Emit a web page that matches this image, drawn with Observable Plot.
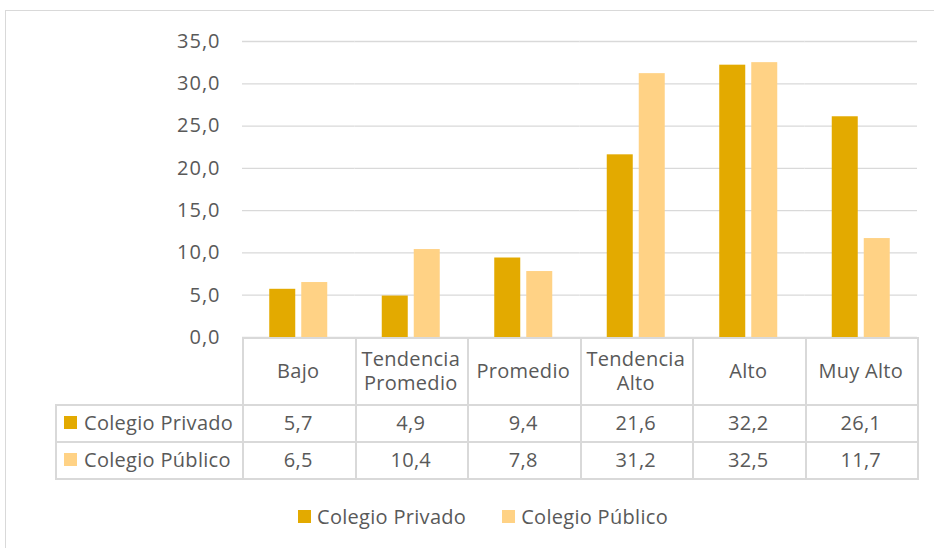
<!DOCTYPE html>
<html><head><meta charset="utf-8">
<script src="https://cdn.jsdelivr.net/npm/d3@7"></script>
<script src="https://cdn.jsdelivr.net/npm/@observablehq/plot@0.6"></script>
<style>
body{margin:0;background:#fff;font-family:"Open Sans",sans-serif;color:#595959;}
#wrap{position:relative;width:934px;height:548px;overflow:hidden;background:#fff;}
#frame{position:absolute;left:5px;top:10px;width:960px;height:580px;border:1px solid #d9d9d9;box-sizing:border-box;}
#chart{position:absolute;left:0;top:0;}
#chart svg text{letter-spacing:1px;}
.ln{position:absolute;background:#d9d9d9;}
.cell{position:absolute;display:flex;align-items:center;justify-content:center;text-align:center;font-size:20px;line-height:24px;letter-spacing:0.3px;color:#595959;white-space:pre-line;}
.rowlab{position:absolute;display:flex;align-items:center;font-size:20px;letter-spacing:0.3px;color:#595959;white-space:nowrap;}
.key{display:inline-block;width:13px;height:13px;margin-right:7px;}
#legend{position:absolute;top:503px;left:298px;display:flex;align-items:center;font-size:20px;letter-spacing:0.3px;color:#595959;}
#legend span.item{display:flex;align-items:center;margin-right:36px;}
</style>
</head>
<body>
<div id="wrap"><div id="frame"></div><div id="chart"></div><div id="table"></div><div id="legend"></div></div>
<script>
const categories = ["Bajo", "Tendencia\nPromedio", "Promedio", "Tendencia\nAlto", "Alto", "Muy Alto"];
const series = ["Colegio Privado", "Colegio Público"];
const privado = [5.7, 4.9, 9.4, 21.6, 32.2, 26.1];
const publico = [6.5, 10.4, 7.8, 31.2, 32.5, 11.7];
const colors = ["#E3AA00", "#FFD285"];
const yTicks = [0, 5, 10, 15, 20, 25, 30, 35];

const fmt = v => v.toFixed(1).replace(".", ",");
const values = [privado, publico];
const data = [];
categories.forEach((c, i) => series.forEach((s, j) => data.push({cat: c, series: s, value: values[j][i]})));

const chart = Plot.plot({
  width: 934,
  height: 548,
  marginLeft: 242,
  marginRight: 17,
  marginTop: 41,
  marginBottom: 211,
  style: {fontFamily: "'Open Sans', sans-serif", fontSize: "20px", color: "#595959", background: "transparent"},
  facet: {data, x: "cat"},
  fx: {domain: categories, padding: 0, round: false, axis: null, label: null},
  x: {domain: series, paddingInner: 0.1875, paddingOuter: 0.8516, round: false, axis: null, label: null},
  y: {domain: [0, 35], ticks: yTicks, tickFormat: fmt, tickSize: 0, tickPadding: 22, label: null, grid: false},
  color: {domain: series, range: colors},
  marks: [
    Plot.ruleY(yTicks, {stroke: "#d9d9d9", strokeWidth: 1.3, strokeOpacity: 1}),
    Plot.barY(data, {x: "series", y: "value", fill: "series"})
  ]
});
document.getElementById("chart").appendChild(chart);

// Data table aligned to the fx scale
const fxs = chart.scale("fx");
const ys = chart.scale("y");
let fxApply, bw;
if (fxs && typeof fxs.apply === "function" && fxs.bandwidth != null) {
  fxApply = fxs.apply; bw = fxs.bandwidth;
} else {
  const s = d3.scaleBand(categories, [242, 917]).padding(0);
  fxApply = s; bw = s.bandwidth();
}
const y0 = Math.round(ys && ys.apply ? ys.apply(0) : 337);
const left0 = fxApply(categories[0]);
const right0 = fxApply(categories[categories.length - 1]) + bw;
const tableLeft = 55;
const headH = 67, rowH = 37;
const rows = [y0, y0 + headH, y0 + headH + rowH, y0 + headH + 2 * rowH];
const table = document.getElementById("table");
function line(x, y, w, h) {
  const d = document.createElement("div");
  d.className = "ln";
  Object.assign(d.style, {left: x + "px", top: y + "px", width: w + "px", height: h + "px"});
  table.appendChild(d);
}
line(left0, rows[0], right0 - left0 + 1, 2);
for (let r = 1; r < rows.length; r++) line(tableLeft, rows[r], right0 - tableLeft + 1, 2);
categories.forEach(c => line(Math.round(fxApply(c)), rows[0], 2, rows[3] - rows[0] + 2));
line(Math.round(right0), rows[0], 2, rows[3] - rows[0] + 2);
line(tableLeft, rows[1], 2, rows[3] - rows[1] + 2);

function cell(text, x, y, w, h) {
  const d = document.createElement("div");
  d.className = "cell";
  Object.assign(d.style, {left: x + "px", top: y + "px", width: w + "px", height: h + "px"});
  d.textContent = text;
  table.appendChild(d);
}
categories.forEach((c, i) => {
  const x = fxApply(c);
  cell(c, x, rows[0], bw, headH);
  cell(fmt(privado[i]), x, rows[1], bw, rowH);
  cell(fmt(publico[i]), x, rows[2], bw, rowH);
});
series.forEach((s, j) => {
  const d = document.createElement("div");
  d.className = "rowlab";
  Object.assign(d.style, {left: (tableLeft + 9) + "px", top: rows[j + 1] + "px", height: rowH + "px"});
  d.innerHTML = `<span class="key" style="background:${colors[j]}"></span>`;
  d.appendChild(document.createTextNode(s));
  table.appendChild(d);
});

// Legend
const legend = document.getElementById("legend");
series.forEach((s, j) => {
  const it = document.createElement("span");
  it.className = "item";
  it.innerHTML = `<span class="key" style="background:${colors[j]};margin-right:6px"></span>`;
  it.appendChild(document.createTextNode(s));
  legend.appendChild(it);
});
</script>
</body></html>
